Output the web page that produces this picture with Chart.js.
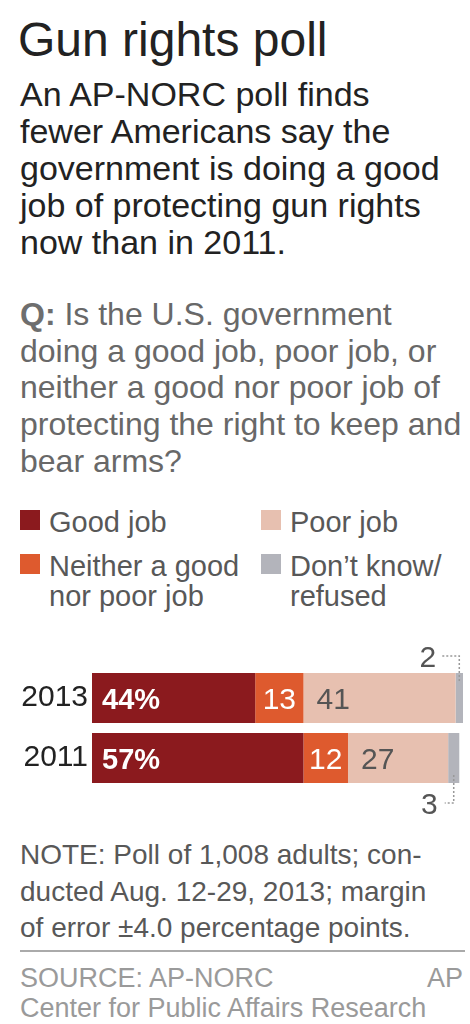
<!DOCTYPE html>
<html>
<head>
<meta charset="utf-8">
<script src="https://cdn.jsdelivr.net/npm/chart.js@4.4.0/dist/chart.umd.min.js"></script>
<style>
  body { margin: 0; background: #fff; font-family: "Liberation Sans", Arial, sans-serif; }
  #page { position: relative; width: 470px; height: 1024px; overflow: hidden; background: #fff; }
  .txt { position: absolute; white-space: nowrap; }
  #title { left: 18px; top: 13px; font-size: 48px; line-height: 54px; color: #222; }
  #dek { left: 20px; top: 76px; font-size: 34px; line-height: 37px; color: #222; }
  #question { left: 20px; top: 296px; font-size: 32px; line-height: 36.7px; color: #686868; }
  #question b { color: #6e6e6e; }
  .leg-box { position: absolute; width: 20px; height: 20px; }
  .leg-text { position: absolute; font-size: 29px; line-height: 30px; color: #585858; white-space: normal; }
  #chart { position: absolute; left: 0; top: 640px; }
  #note { left: 20px; top: 837px; font-size: 28px; line-height: 36.5px; color: #585858; }
  #rule { position: absolute; left: 20px; top: 950px; width: 445px; height: 2px; background: #aaa; }
  #source { left: 20px; top: 963px; font-size: 27px; line-height: 30px; color: #9a9a9a; }
  #credit { right: 7px; top: 963px; font-size: 27px; line-height: 30px; color: #9a9a9a; }
</style>
</head>
<body>
<div id="page">
  <div class="txt" id="title">Gun rights poll</div>
  <div class="txt" id="dek">An AP-NORC poll finds<br>fewer Americans say the<br>government is doing a good<br>job of protecting gun rights<br>now than in 2011.</div>
  <div class="txt" id="question"><b>Q:</b> Is the U.S. government<br>doing a good job, poor job, or<br>neither a good nor poor job of<br>protecting the right to keep and<br>bear arms?</div>
  <div id="legend"></div>
  <canvas id="chart" width="470" height="180"></canvas>
  <div class="txt" id="note">NOTE: Poll of 1,008 adults; con-<br>ducted Aug. 12-29, 2013; margin<br>of error ±4.0 percentage points.</div>
  <div id="rule"></div>
  <div class="txt" id="source">SOURCE: AP-NORC<br>Center for Public Affairs Research</div>
  <div class="txt" id="credit">AP</div>
</div>
<script>
const years = ["2013", "2011"];
const seriesNames = ["Good job", "Neither a good nor poor job", "Poor job", "Don’t know/ refused"];
const seriesColors = ["#8b1a1e", "#de5a2e", "#e7c0b0", "#b3b4bb"];
const goodJob = [44, 57];
const neither = [13, 12];
const poorJob = [41, 27];
const dontKnow = [2, 3];

// legend, two columns, filled column first
const legend = document.getElementById("legend");
const legCols = [20, 261];
const legRows = [507, 551];
seriesNames.forEach((name, i) => {
    const col = Math.floor(i / 2);
    const row = i % 2;
    const box = document.createElement("div");
    box.className = "leg-box";
    box.style.left = legCols[col] + "px";
    box.style.top = legRows[row] + 3 + "px";
    box.style.background = seriesColors[i];
    legend.appendChild(box);
    const txt = document.createElement("div");
    txt.className = "leg-text";
    txt.style.left = legCols[col] + 29 + "px";
    txt.style.top = legRows[row] + "px";
    txt.style.width = (col === 0 ? 205 : 175) + "px";
    txt.textContent = name;
    legend.appendChild(txt);
});

const font = "'Liberation Sans', Arial, sans-serif";

const barLabels = {
    id: "barLabels",
    afterDatasetsDraw(chart) {
        const { ctx } = chart;
        ctx.save();
        chart.data.datasets.forEach((ds, di) => {
            const meta = chart.getDatasetMeta(di);
            meta.data.forEach((bar, i) => {
                const v = ds.data[i];
                const left = Math.min(bar.x, bar.base);
                const right = Math.max(bar.x, bar.base);
                const top = bar.y - bar.height / 2;
                const bottom = bar.y + bar.height / 2;
                ctx.textBaseline = "alphabetic";
                if (di === 0) {
                    ctx.font = "bold 29px " + font;
                    ctx.fillStyle = "#fff";
                    ctx.textAlign = "left";
                    ctx.fillText(v + "%", left + 10, bar.y + 11);
                } else if (di === 1) {
                    ctx.font = "30px " + font;
                    ctx.fillStyle = "#fff";
                    ctx.textAlign = "center";
                    ctx.fillText(v, (left + right) / 2, bar.y + 11);
                } else if (di === 2) {
                    ctx.font = "30px " + font;
                    ctx.fillStyle = "#555";
                    ctx.textAlign = "left";
                    ctx.fillText(v, left + 13, bar.y + 11);
                } else {
                    // small segment: number outside with dotted leader
                    const cx = (left + right) / 2;
                    ctx.strokeStyle = "#999";
                    ctx.lineWidth = 1.5;
                    ctx.setLineDash([2, 2]);
                    ctx.font = "30px " + font;
                    ctx.fillStyle = "#555";
                    ctx.textAlign = "right";
                    ctx.beginPath();
                    if (i === 0) {
                        const ly = top - 17;
                        ctx.moveTo(cx - 17, ly);
                        ctx.lineTo(cx, ly);
                        ctx.lineTo(cx, top + 9);
                        ctx.stroke();
                        ctx.fillText(v, cx - 23, ly + 11);
                    } else {
                        const ly = bottom + 20;
                        ctx.moveTo(cx, bottom - 8);
                        ctx.lineTo(cx, ly);
                        ctx.lineTo(cx - 9, ly);
                        ctx.stroke();
                        ctx.fillText(v, cx - 16, ly + 11);
                    }
                    ctx.setLineDash([]);
                }
            });
        });
        ctx.restore();
    },
};

const series = [goodJob, neither, poorJob, dontKnow];

new Chart(document.getElementById("chart"), {
    type: "bar",
    data: {
        labels: years,
        datasets: series.map((values, i) => ({
            label: seriesNames[i],
            data: values,
            backgroundColor: seriesColors[i],
            borderWidth: 0,
            barPercentage: 50 / 60,
            categoryPercentage: 1,
        })),
    },
    options: {
        indexAxis: "y",
        responsive: false,
        animation: false,
        devicePixelRatio: 1,
        layout: { padding: { top: 28, bottom: 32, left: 0, right: 7 } },
        plugins: { legend: { display: false }, tooltip: { enabled: false } },
        scales: {
            x: { stacked: true, min: 0, max: 100, display: false },
            y: {
                stacked: true,
                grid: { display: false, drawTicks: false },
                border: { display: false },
                ticks: { color: "#222", padding: 4, font: { family: "Liberation Sans", size: 30 } },
                afterFit(scale) {
                    scale.width = 92;
                },
            },
        },
    },
    plugins: [barLabels],
});
</script>
</body>
</html>
